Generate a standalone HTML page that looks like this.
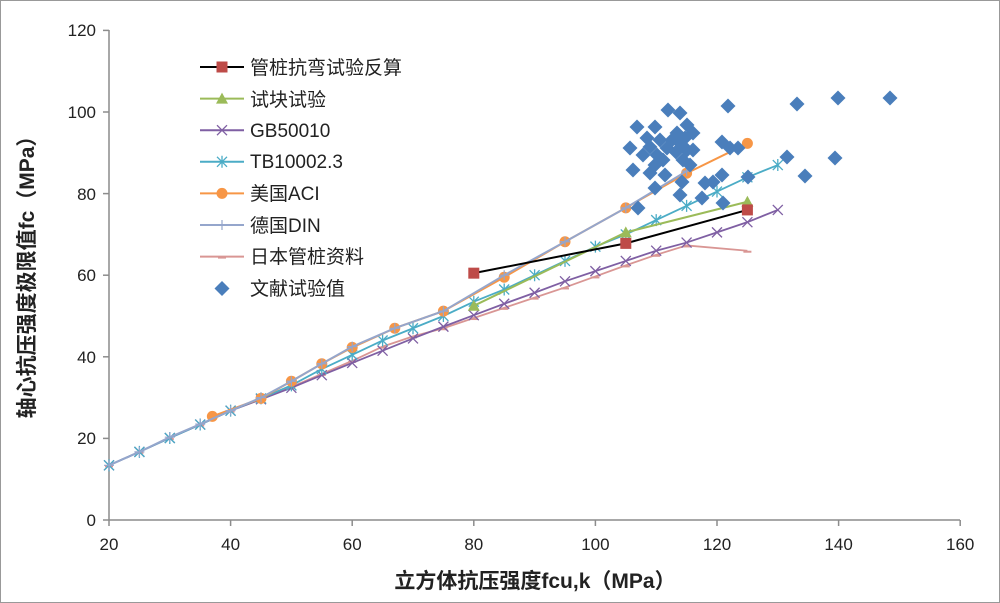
<!DOCTYPE html>
<html><head><meta charset="utf-8"><style>
html,body{margin:0;padding:0;background:#fff}
svg{display:block}
text{font-family:"Liberation Sans","Noto Sans CJK SC",sans-serif;fill:#222}
</style></head><body>
<svg id="s" width="1000" height="603" viewBox="0 0 1000 603" xmlns="http://www.w3.org/2000/svg">
<rect x="0.5" y="0.5" width="999" height="602" fill="#fff" stroke="#999"/>
<g stroke="#8c8c8c" stroke-width="1.5">
<line x1="109" y1="30" x2="109" y2="520"/>
<line x1="109" y1="520" x2="960" y2="520"/>
<line x1="103" y1="520" x2="109" y2="520"/><line x1="103" y1="438.4" x2="109" y2="438.4"/><line x1="103" y1="356.8" x2="109" y2="356.8"/><line x1="103" y1="275.2" x2="109" y2="275.2"/><line x1="103" y1="193.6" x2="109" y2="193.6"/><line x1="103" y1="112" x2="109" y2="112"/><line x1="103" y1="30.4" x2="109" y2="30.4"/>
<line x1="109" y1="520" x2="109" y2="526"/><line x1="230.6" y1="520" x2="230.6" y2="526"/><line x1="352.2" y1="520" x2="352.2" y2="526"/><line x1="473.8" y1="520" x2="473.8" y2="526"/><line x1="595.4" y1="520" x2="595.4" y2="526"/><line x1="717" y1="520" x2="717" y2="526"/><line x1="838.6" y1="520" x2="838.6" y2="526"/><line x1="960.2" y1="520" x2="960.2" y2="526"/>
</g>
<g font-size="17" text-anchor="end">
<text x="96" y="526">0</text><text x="96" y="444">20</text><text x="96" y="363">40</text><text x="96" y="281">60</text><text x="96" y="200">80</text><text x="96" y="118">100</text><text x="96" y="36">120</text>
</g>
<g font-size="17" text-anchor="middle">
<text x="109" y="550">20</text><text x="230.6" y="550">40</text><text x="352.2" y="550">60</text><text x="473.8" y="550">80</text><text x="595.4" y="550">100</text><text x="717" y="550">120</text><text x="838.6" y="550">140</text><text x="960.2" y="550">160</text>
</g>
<text x="535" y="588" font-size="21" font-weight="bold" text-anchor="middle">立方体抗压强度fcu,k（MPa）</text>
<text transform="translate(34,272) rotate(-90)" font-size="21" font-weight="bold" text-anchor="middle">轴心抗压强度极限值fc（MPa）</text>
<g id="plot"></g>
<g id="leg" font-size="19">
<text x="250" y="74">管桩抗弯试验反算</text>
<text x="250" y="106">试块试验</text>
<text x="250" y="137">GB50010</text>
<text x="250" y="168">TB10002.3</text>
<text x="250" y="200">美国ACI</text>
<text x="250" y="232">德国DIN</text>
<text x="250" y="263">日本管桩资料</text>
<text x="250" y="295">文献试验值</text>
</g>
</svg>
<script>
const NS="http://www.w3.org/2000/svg";
const P=document.getElementById("plot"),L=document.getElementById("leg");
const X=v=>109+(v-20)*6.08, Y=v=>520-v*4.08;
function el(p,t,a){const e=document.createElementNS(NS,t);for(const k in a)e.setAttribute(k,a[k]);p.appendChild(e);return e;}
function mk(p,type,x,y,c){
 if(type=="sq")el(p,"rect",{x:x-5.5,y:y-5.5,width:11,height:11,fill:c});
 else if(type=="tri")el(p,"polygon",{points:`${x},${y-6} ${x+6},${y+5} ${x-6},${y+5}`,fill:c});
 else if(type=="x")el(p,"path",{d:`M${x-5},${y-5}L${x+5},${y+5}M${x-5},${y+5}L${x+5},${y-5}`,stroke:c,"stroke-width":1.3});
 else if(type=="ast")el(p,"path",{d:`M${x-5},${y-5}L${x+5},${y+5}M${x-5},${y+5}L${x+5},${y-5}M${x},${y-6}L${x},${y+6}`,stroke:c,"stroke-width":1.3});
 else if(type=="ci")el(p,"circle",{cx:x,cy:y,r:5.5,fill:c});
 else if(type=="plus")el(p,"path",{d:`M${x-5},${y}L${x+5},${y}M${x},${y-5}L${x},${y+5}`,stroke:c,"stroke-width":1.2});
 else if(type=="dash")el(p,"path",{d:`M${x-4},${y+1}L${x+4},${y+1}`,stroke:c,"stroke-width":2});
 else if(type=="dia")el(p,"polygon",{points:`${x},${y-7.5} ${x+7.5},${y} ${x},${y+7.5} ${x-7.5},${y}`,fill:c});
}
function series(d,c,m,w){
 el(P,"polyline",{points:d.map(p=>X(p[0])+","+Y(p[1])).join(" "),fill:"none",stroke:c,"stroke-width":w||2});
 d.forEach(p=>mk(P,m,X(p[0]),Y(p[1]),c));
}
const xs=[20,25,30,35,40,45,50,55,60,65,70,75,80,85,90,95,100,105,110,115,120,125,130];
const gb=[13.4,16.7,20.1,23.4,26.8,29.6,32.4,35.5,38.5,41.5,44.5,47.4,50.2,53,55.7,58.5,61,63.5,66,68,70.5,73,76];
const tb=[13.4,16.7,20.1,23.4,26.8,29.8,33,37,40.5,44,47,50,53.5,56.5,60,63.5,67,70,73.5,77,80.5,84,87];
const jp=[13.4,16.7,20.1,23.4,26.8,29.6,32.6,35.8,39,42.5,45,47,49.5,52,54.5,57,59.7,62.4,65,67.3];
const din=[[20,13.4],[25,16.7],[30,20.3],[35,23.5],[40,26.8],[45,30],[50,34],[55,38.3],[60,42.5],[67,47],[75,51.2],[85,60],[95,68.2],[105,76.5],[115,85.5]];
series(xs.slice(0,20).map((x,i)=>[x,jp[i]]).concat([[125,66]]),"#d99694","dash",1.8);
series(xs.map((x,i)=>[x,gb[i]]),"#7f5fa3","x",1.8);
series(xs.map((x,i)=>[x,tb[i]]),"#4bacc6","ast",1.8);
series([[37,25.4],[45,29.8],[50,34],[55,38.3],[60,42.3],[67,47],[75,51.2],[85,59.5],[95,68.2],[105,76.5],[115,85],[125,92.3]],"#f79646","ci",2);
series(din,"#95a6cc","plus",2);
series([[80,52.5],[105,70.5],[125,78]],"#9bbb59","tri",2);
series([[80,60.5],[105,67.8],[125,76]],"#000","sq",2);
P.querySelectorAll("rect").forEach(r=>r.setAttribute("fill","#be4b48"));
const dp=[[668,110],[680,113],[728,106],[797,104],[838,98],[890,98],[637,127],[655,127],[687,125],[693,133],[677,133],[647,138],[630,148],[650,147],[667,148],[680,143],[687,150],[693,150],[722,142],[730,148],[738,148],[643,155],[657,155],[683,160],[787,157],[835,158],[633,170],[650,173],[665,175],[722,175],[748,177],[805,176],[705,183],[713,182],[655,188],[680,195],[702,198],[723,203],[638,208],[660,140],[672,140],[685,138],[663,160],[655,165],[676,152],[690,165],[682,182]];
dp.forEach(p=>mk(P,"dia",p[0],p[1],"#4a7ebb"));
const lm=[["#000","sq"],["#9bbb59","tri"],["#7f5fa3","x"],["#4bacc6","ast"],["#f79646","ci"],["#95a6cc","plus"],["#d99694","dash"]];
lm.forEach((m,i)=>{const y=67+i*31.6;el(L,"line",{x1:200,y1:y,x2:244,y2:y,stroke:m[0],"stroke-width":2});mk(L,m[1],222,y,m[1]=="sq"?"#be4b48":m[0]);});
mk(L,"dia",222,288.5,"#4a7ebb");
</script>
</body></html>
